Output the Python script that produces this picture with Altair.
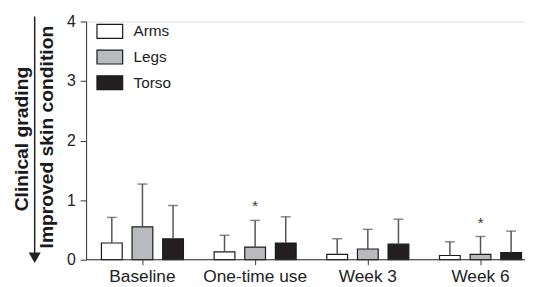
import altair as alt
import pandas as pd

categories = ["Baseline", "One-time use", "Week 3", "Week 6"]
series = ["Arms", "Legs", "Torso"]
arms_mean = [0.28, 0.13, 0.09, 0.07]
arms_sd = [0.43, 0.28, 0.26, 0.23]
legs_mean = [0.55, 0.21, 0.18, 0.09]
legs_sd = [0.72, 0.45, 0.33, 0.30]
torso_mean = [0.35, 0.28, 0.26, 0.12]
torso_sd = [0.56, 0.44, 0.42, 0.36]
star_cats = ["One-time use", "Week 6"]
star_series = ["Legs", "Legs"]
colors = ["#ffffff", "#b9babd", "#231f20"]
y_ticks = [0, 1, 2, 3, 4]
title_lines = ["Clinical grading", "Improved skin condition"]

rows = []
for s, m, sd in [("Arms", arms_mean, arms_sd), ("Legs", legs_mean, legs_sd), ("Torso", torso_mean, torso_sd)]:
    for c, mv, sv in zip(categories, m, sd):
        rows.append({"cat": c, "series": s, "mean": mv, "top": mv + sv})
df = pd.DataFrame(rows)
stars = df.merge(pd.DataFrame({"cat": star_cats, "series": star_series}), on=["cat", "series"])

FONT = "Liberation Sans"
W, H = 444, 241

xenc = alt.X("cat:N", sort=categories,
             scale=alt.Scale(range=[0, 456], paddingInner=0, paddingOuter=0),
             axis=alt.Axis(title=None, domain=False, labelAngle=0, labelFontSize=17.5,
                           labelColor="#222", labelFont=FONT, tickColor="#333",
                           tickSize=5, labelPadding=3))
xoff = alt.XOffset("series:N", sort=series,
                   scale=alt.Scale(paddingInner=0, paddingOuter=0.34))
yscale = alt.Scale(domain=[0, 4])

bars = alt.Chart(df).mark_bar(width=21, stroke="#1a1a1a", strokeWidth=1.2).encode(
    x=xenc, xOffset=xoff,
    y=alt.Y("mean:Q", scale=yscale,
            axis=alt.Axis(title=None, values=y_ticks, format="d", grid=False,
                          labelFontSize=16, labelFont=FONT, labelColor="#222",
                          domainColor="#333", tickColor="#333", tickSize=6,
                          labelPadding=5)),
    fill=alt.Fill("series:N", sort=series,
                  scale=alt.Scale(domain=series, range=colors),
                  legend=alt.Legend(title=None, orient="none", legendX=10, legendY=-4,
                                    symbolType="M-1,-0.54H1V0.54H-1Z", symbolSize=676,
                                    symbolStrokeColor="#1a1a1a", symbolStrokeWidth=1.2,
                                    symbolOpacity=1, labelFontSize=15.5, labelFont=FONT,
                                    labelColor="#222", rowPadding=2, labelOffset=10)),
)

err = alt.Chart(df).mark_rule(color="#555", strokeWidth=1.5).encode(
    x=alt.X("cat:N", sort=categories), xOffset=alt.XOffset("series:N", sort=series),
    y=alt.Y("mean:Q"), y2="top:Q")

caps = alt.Chart(df).mark_tick(color="#555", thickness=1.5, size=10, orient="horizontal").encode(
    x=alt.X("cat:N", sort=categories), xOffset=alt.XOffset("series:N", sort=series),
    y=alt.Y("top:Q"))

star = alt.Chart(stars).mark_text(text="*", fontSize=15, font=FONT, color="#333",
                                  baseline="bottom", dy=-6).encode(
    x=alt.X("cat:N", sort=categories), xOffset=alt.XOffset("series:N", sort=series),
    y=alt.Y("top:Q"))

xline = alt.Chart(pd.DataFrame({"v": [0]})).mark_rule(color="#333", strokeWidth=1).encode(
    x=alt.value(0), x2=alt.value(W), y=alt.value(H))

arrow_line = alt.Chart(pd.DataFrame({"v": [0]})).mark_rule(color="#222", strokeWidth=1.5).encode(
    x=alt.value(-52), y=alt.value(-5), y2=alt.value(235))
arrow_head = alt.Chart(pd.DataFrame({"v": [0]})).mark_point(
    shape="triangle-down", filled=True, color="#222", size=150, opacity=1).encode(
    x=alt.value(-52), y=alt.value(239))

t1 = alt.Chart(pd.DataFrame({"t": [title_lines[0]]})).mark_text(
    angle=270, fontSize=19.5, fontWeight="bold", font=FONT, color="#1a1a1a").encode(
    text="t:N", x=alt.value(-65), y=alt.value(119))
t2 = alt.Chart(pd.DataFrame({"t": [title_lines[1]]})).mark_text(
    angle=270, fontSize=19.5, fontWeight="bold", font=FONT, color="#1a1a1a").encode(
    text="t:N", x=alt.value(-39), y=alt.value(117))

chart = alt.layer(bars, err, caps, star, xline, arrow_line, arrow_head, t1, t2).properties(
    width=W, height=H,
    autosize=alt.AutoSizeParams(type="none"),
    padding={"left": 79, "top": 12, "right": 0, "bottom": 26},
).configure_view(stroke=None).configure(background="white")

chart.save("out.html", embed_options={"renderer": "svg", "actions": False})
